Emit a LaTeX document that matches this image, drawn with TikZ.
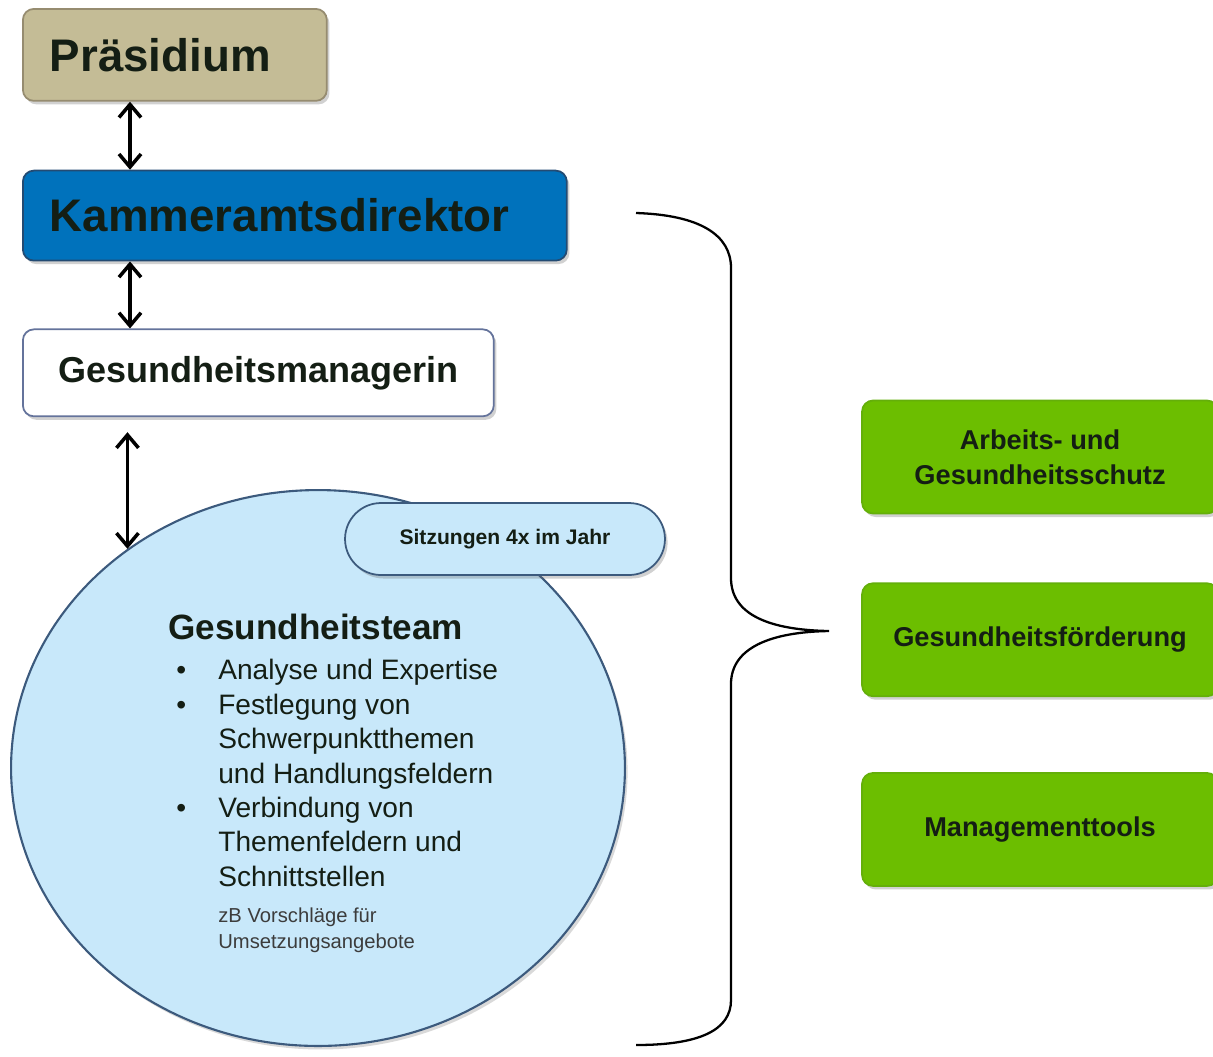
\documentclass[tikz,border=0pt]{standalone}
\usepackage{fontspec}
\setmainfont{Liberation Sans}
\usetikzlibrary{arrows.meta, positioning, calc, shapes.geometric, shadows}

\definecolor{praesfill}{RGB}{196,188,150}
\definecolor{praesline}{RGB}{150,140,112}
\definecolor{kamfill}{RGB}{0,114,188}
\definecolor{kamline}{RGB}{35,75,115}
\definecolor{mgrline}{RGB}{100,115,155}
\definecolor{teamfill}{RGB}{200,232,250}
\definecolor{teamline}{RGB}{60,90,125}
\definecolor{greenfill}{RGB}{108,190,0}
\definecolor{greenline}{RGB}{100,175,10}
\definecolor{darktext}{RGB}{20,30,20}
\definecolor{notetext}{RGB}{60,60,60}

\begin{document}
\begin{tikzpicture}[
    x=0.02cm, y=-0.02cm,
    every node/.style={font=\fontsize{16}{19.6}\selectfont, text=darktext},
    box/.style={draw, rounded corners=0.22cm, line width=1pt,
        drop shadow={shadow xshift=1.5pt, shadow yshift=-2pt, opacity=0.3, fill=black!60}},
    headbox/.style={box, align=left, inner xsep=0.54cm, font=\bfseries\fontsize{26}{31}\selectfont},
    greenbox/.style={box, fill=greenfill, draw=greenline, minimum width=7.12cm, minimum height=2.26cm,
        align=center, font=\bfseries\fontsize{15.5}{20}\selectfont},
    link/.style={{Straight Barb[length=2.6mm,width=4.4mm]}-{Straight Barb[length=2.6mm,width=4.4mm]}, line width=2pt, black},
    brace/.style={line width=1.3pt, black}
    ]
    \useasboundingbox (0,0) rectangle (1213,1056);

    % left column
    \node[headbox, fill=praesfill, draw=praesline, text width=5.0cm, minimum height=1.84cm,
        anchor=north west] (praes) at (22,8) {Präsidium};
    \node[headbox, fill=kamfill, draw=kamline, text width=9.8cm, minimum height=1.8cm,
        below=1.36cm of praes.south west, anchor=north west] (kam) {Kammeramtsdirektor};
    \node[box, fill=white, draw=mgrline, minimum width=9.42cm, minimum height=1.74cm,
        font=\bfseries\fontsize{20.5}{24}\selectfont,
        below=1.34cm of kam.south west, anchor=north west] (mgr) {Gesundheitsmanagerin};

    % team
    \node[ellipse, draw=teamline, fill=teamfill, line width=1.2pt, minimum width=12.28cm,
        minimum height=11.12cm, inner sep=0,
        drop shadow={shadow xshift=1.5pt, shadow yshift=-2pt, opacity=0.25, fill=black!60}] (team) at (318,768) {};
    \node[box, fill=teamfill, draw=teamline, minimum width=6.4cm, minimum height=1.44cm,
        rounded corners=0.72cm, font=\bfseries\fontsize{12}{14}\selectfont] (meet) at (505,539) {Sitzungen 4x im Jahr};
    \node[anchor=base west, inner sep=0, font=\bfseries\fontsize{20}{24}\selectfont] (ttitle) at (168,639) {Gesundheitsteam};
    \node[anchor=north west, inner sep=0, align=left] (tlist) at (168,659) {%
        \makebox[1cm][l]{\hspace{0.16cm}\textbullet}Analyse und Expertise\\
        \makebox[1cm][l]{\hspace{0.16cm}\textbullet}Festlegung von\\
        \hspace*{1cm}Schwerpunktthemen\\
        \hspace*{1cm}und Handlungsfeldern\\
        \makebox[1cm][l]{\hspace{0.16cm}\textbullet}Verbindung von\\
        \hspace*{1cm}Themenfeldern und\\
        \hspace*{1cm}Schnittstellen};
    \node[anchor=north west, inner sep=0, align=left, text=notetext,
        font=\fontsize{11.5}{15.3}\selectfont] (tnote) at (218,907) {zB Vorschläge für\\Umsetzungsangebote};

    % links
    \coordinate (ax) at (130,0);
    \draw[link] (praes.south -| ax) -- (kam.north -| ax);
    \draw[link] (kam.south -| ax) -- (mgr.north -| ax);
    \draw[link, shorten <=0.3cm] (team.131 |- mgr.south) -- (team.131);

    % brace
    \draw[brace] (636,213) .. controls (700,215) and (731,235) .. (731,268) -- (731,578)
        .. controls (731,615) and (770,630) .. (829,631)
        .. controls (770,632) and (731,648) .. (731,684) -- (731,1000)
        .. controls (731,1030) and (700,1045) .. (636,1045);

    % right column
    \node[greenbox] (arbeit) at (1040,457) {Arbeits- und\\Gesundheitsschutz};
    \node[greenbox, below=1.36cm of arbeit] (foerd) {Gesundheitsförderung};
    \node[greenbox, below=1.5cm of foerd] (tools) {Managementtools};
\end{tikzpicture}
\end{document}
